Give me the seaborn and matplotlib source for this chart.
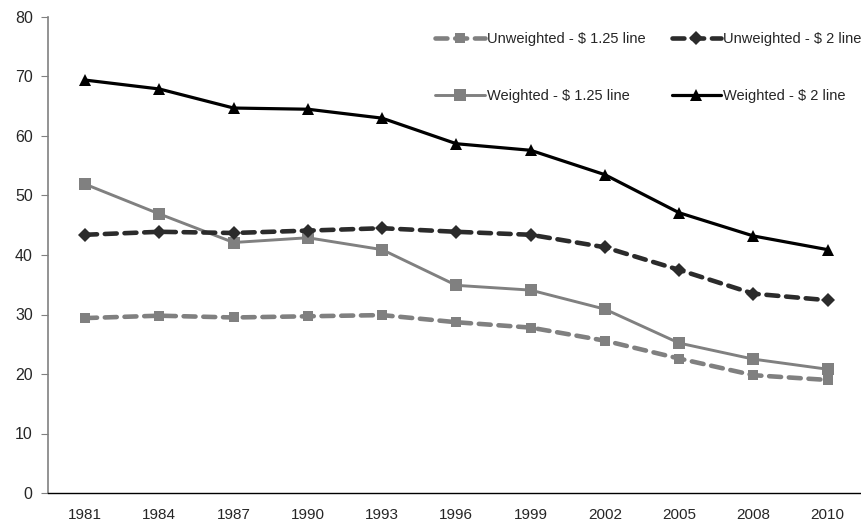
import matplotlib
matplotlib.use("Agg")
import matplotlib.pyplot as plt
import pandas as pd
import seaborn as sns

years = ["1981", "1984", "1987", "1990", "1993", "1996", "1999", "2002", "2005", "2008", "2010"]
unweighted_125 = [29.4, 29.8, 29.5, 29.7, 29.9, 28.7, 27.8, 25.6, 22.6, 19.8, 19.0]
unweighted_2 = [43.4, 43.9, 43.7, 44.1, 44.5, 43.9, 43.4, 41.3, 37.5, 33.5, 32.4]
weighted_125 = [51.9, 46.9, 42.1, 42.9, 40.9, 34.9, 34.1, 30.9, 25.2, 22.5, 20.8]
weighted_2 = [69.4, 67.9, 64.7, 64.5, 63.0, 58.7, 57.6, 53.5, 47.1, 43.2, 40.9]

series = {
    "Unweighted - $ 1.25 line": unweighted_125,
    "Weighted - $ 1.25 line": weighted_125,
    "Unweighted - $ 2 line": unweighted_2,
    "Weighted - $ 2 line": weighted_2,
}
styles = {
    "Unweighted - $ 1.25 line": dict(color="#808080", marker="s", ms=7.5, lw=3.3, ls=(0, (2.6, 1.7))),
    "Weighted - $ 1.25 line": dict(color="#808080", marker="s", ms=8, lw=2.1, ls="-"),
    "Unweighted - $ 2 line": dict(color="#2b2b2b", marker="D", ms=7, lw=3.3, ls=(0, (2.6, 1.7))),
    "Weighted - $ 2 line": dict(color="#000000", marker="^", ms=8, lw=2.3, ls="-"),
}

sns.set_style("white")
plt.rcParams["font.family"] = ["Liberation Sans", "DejaVu Sans"]

fig = plt.figure(figsize=(8.61, 5.23), dpi=100)
ax = fig.add_axes([48 / 861, 1 - 493 / 523, 1 - 48 / 861, (493 - 17) / 523])

for name, vals in series.items():
    st = styles[name]
    df = pd.DataFrame({"year": years, "value": vals})
    sns.lineplot(data=df, x="year", y="value", ax=ax, color=st["color"],
                 marker=st["marker"], markersize=st["ms"], markeredgewidth=0,
                 linewidth=st["lw"], linestyle=st["ls"], label=name,
                 dash_capstyle="round")

ax.set_xlim(-0.5, 10.45)
ax.set_ylim(0, 80)
ax.set_yticks(range(0, 81, 10))
ax.set_xlabel("")
ax.set_ylabel("")
ax.set_xticks([i - 0.5 for i in range(11)], minor=True)
ax.tick_params(axis="x", which="major", length=0, labelsize=11, pad=11)
ax.tick_params(axis="x", which="minor", length=5, width=0.8, color="#808080", direction="out")
ax.tick_params(axis="y", length=5, width=0.8, color="#808080", labelsize=11.5, pad=6,
               direction="out", left=True)

for s in ["top", "right"]:
    ax.spines[s].set_visible(False)
ax.spines["left"].set_color("#808080")
ax.spines["left"].set_linewidth(1.2)
ax.spines["bottom"].set_color("#000000")
ax.spines["bottom"].set_linewidth(1.0)

ax.legend(ncol=2, loc="upper left", bbox_to_anchor=(435 / 861, 1 - 32 / 523),
          bbox_transform=fig.transFigure, frameon=False,
          fontsize=10.5, labelspacing=2.95, handlelength=3.4, handletextpad=0.15,
          columnspacing=1.8, borderaxespad=0, borderpad=0)

fig.savefig("out.png", dpi=100)
